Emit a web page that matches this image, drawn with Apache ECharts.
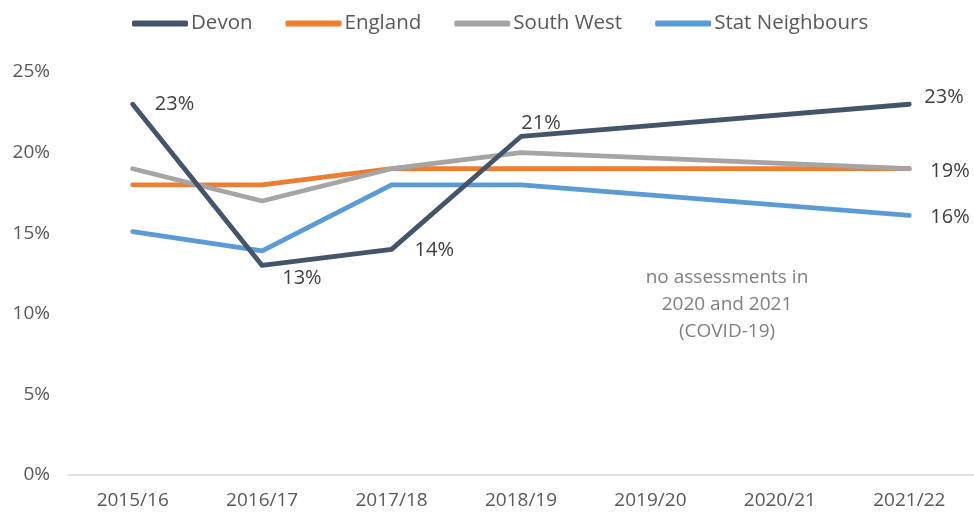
<!DOCTYPE html>
<html>
<head>
<meta charset="utf-8">
<script src="https://cdn.jsdelivr.net/npm/echarts@6/dist/echarts.min.js"></script>
<style>
html,body{margin:0;padding:0;background:#fff;}
#chart{width:974px;height:514px;}
</style>
</head>
<body>
<div id="chart"></div>
<script>
const categories = ['2015/16','2016/17','2017/18','2018/19','2019/20','2020/21','2021/22'];
const devon = [23, 13, 14, 21, null, null, 23];
const england = [18, 18, 19, 19, null, null, 19];
const southWest = [19, 17, 19, 20, null, null, 19];
const statNeighbours = [15.1, 13.9, 18, 18, null, null, 16.1];
const yTicks = [0, 5, 10, 15, 20, 25];
const seriesNames = ['Devon','England','South West','Stat Neighbours'];
const annotationLines = ['no assessments in', '2020 and 2021', '(COVID-19)'];

const FONT = 'Open Sans';
const labelStyle = {color:'#404040', fontSize:20, fontFamily:FONT};

function withLabels(values, cfg) {
  return values.map((v, i) => {
    if (v === null) return null;
    if (cfg[i]) {
      return {value: v, label: Object.assign({show:true, formatter: p => Math.round(p.value) + '%'}, labelStyle, cfg[i])};
    }
    return v;
  });
}

const devonData = withLabels(devon, {
  0: {position:'right', distance:22, offset:[0,0]},
  1: {position:'right', distance:20, offset:[0,13]},
  2: {position:'right', distance:23, offset:[0,1]},
  3: {position:'top', distance:3, offset:[20,0]},
  6: {position:'right', distance:15, offset:[0,-7]}
});
const swData = withLabels(southWest, {6: {position:'right', distance:21, offset:[0,3]}});
const snData = withLabels(statNeighbours, {6: {position:'right', distance:21, offset:[0,2]}});

function lineSeries(name, data, color, z) {
  return {
    name, type:'line', data, connectNulls:true, z,
    symbol:'circle', symbolSize:0.1, showSymbol:true,
    itemStyle:{color},
    lineStyle:{color, width:4.8, cap:'round', join:'round'},
    label:{show:false},
    emphasis:{disabled:true},
    animation:false
  };
}

const chart = echarts.init(document.getElementById('chart'));
chart.setOption({
  animation:false,
  backgroundColor:'#fff',
  legend:{
    data: seriesNames,
    top:8, left:127,
    itemWidth:56, itemHeight:6, itemGap:33,
    icon:'roundRect',
    textStyle:{color:'#595959', fontSize:20.5, fontFamily:FONT, padding:[0,0,0,-2]}
  },
  grid:{left:68, top:72, width:910, height:403, containLabel:false},
  xAxis:{
    type:'category', data:categories, boundaryGap:true,
    axisLine:{show:true, lineStyle:{color:'#d9d9d9', width:1.5}},
    axisTick:{show:false},
    axisLabel:{color:'#595959', fontSize:19, fontFamily:FONT, margin:16, interval:0}
  },
  yAxis:{
    type:'value', min:yTicks[0], max:yTicks[yTicks.length-1], interval:yTicks[1]-yTicks[0],
    axisLine:{show:false}, axisTick:{show:false}, splitLine:{show:false},
    axisLabel:{color:'#595959', fontSize:19, fontFamily:FONT, margin:18, formatter:'{value}%'}
  },
  graphic:[{
    type:'text', x:727, y:264,
    style:{
      text: annotationLines.join('\n'),
      fill:'#808080', font:'19px "Open Sans"', align:'center', verticalAlign:'top', lineHeight:27
    }
  }],
  series:[
    lineSeries('England', england, '#ED7D31', 2),
    lineSeries('South West', swData, '#A5A5A5', 3),
    lineSeries('Stat Neighbours', snData, '#5B9BD5', 4),
    lineSeries('Devon', devonData, '#44546A', 5)
  ]
});
</script>
</body>
</html>
